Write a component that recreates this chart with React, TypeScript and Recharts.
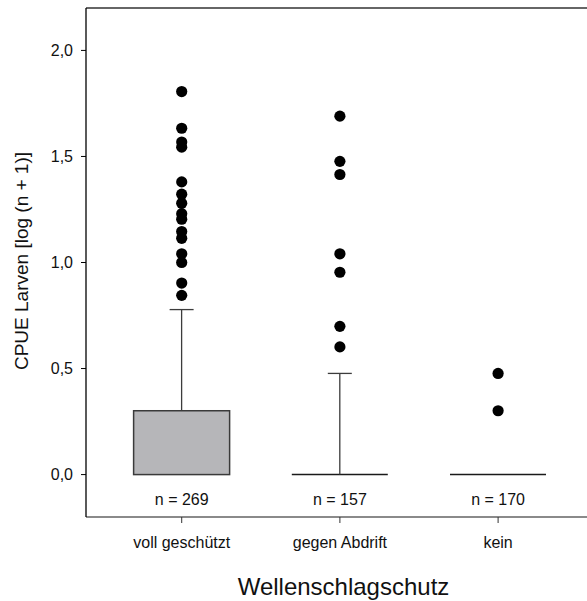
import { ComposedChart, Bar, Scatter, XAxis, YAxis, ReferenceLine } from 'recharts';

const categories = ['voll geschützt', 'gegen Abdrift', 'kein'];
const upperQuartile = [0.301, 0, 0];
const upperWhisker = [0.778, 0.477, 0];
const sampleSizes = [269, 157, 170];

const outliersVoll = [1.806, 1.633, 1.568, 1.544, 1.38, 1.322, 1.279, 1.23, 1.204, 1.146, 1.114, 1.041, 1.0, 0.903, 0.845];
const outliersAbdrift = [1.69, 1.477, 1.415, 1.041, 0.954, 0.699, 0.602];
const outliersKein = [0.477, 0.301];

const yTicks = [0, 0.5, 1, 1.5, 2];

const rows = categories.map((name, i) => ({
  pos: i + 1,
  name,
  box: upperQuartile[i],
  whisker: upperWhisker[i] - upperQuartile[i],
  n: sampleSizes[i],
}));

const outliers = [outliersVoll, outliersAbdrift, outliersKein].flatMap((list, i) =>
  list.map((value) => ({ pos: i + 1, value }))
);

const font = '"Liberation Sans", Arial, sans-serif';

const BoxShape = (props: any) => {
  const { x, y, width, height } = props;
  if (!height || height < 0.5) {
    return <line x1={x} x2={x + width} y1={y} y2={y} stroke="#1a1a1a" strokeWidth={1.5} />;
  }
  return <rect x={x} y={y} width={width} height={height} fill="#b6b6b9" stroke="#3a3a3a" strokeWidth={1.5} />;
};

const WhiskerShape = (props: any) => {
  const { x, y, width, height } = props;
  if (!height || height <= 0) return <g />;
  const cx = x + width / 2;
  return (
    <g stroke="#3c3c3c" strokeWidth={1.3}>
      <line x1={cx} x2={cx} y1={y + height} y2={y} />
      <line x1={cx - 12} x2={cx + 12} y1={y} y2={y} />
    </g>
  );
};

const Dot = (props: any) => <circle cx={props.cx} cy={props.cy} r={5.6} fill="#000" />;

const CategoryTick = (props: any) => {
  const { x, y, payload } = props;
  const i = payload.value - 1;
  return (
    <g fontFamily={font} fontSize={16} fill="#111">
      <text x={x} y={y - 20} textAnchor="middle" fill="#111">
        n = {sampleSizes[i]}
      </text>
      <text x={x} y={y + 23} textAnchor="middle" fill="#111">
        {categories[i]}
      </text>
    </g>
  );
};

export default function App() {
  return (
    <div style={{ position: 'absolute', left: 0, top: 0, width: 587, height: 601, background: '#fff', overflow: 'hidden' }}>
      <ComposedChart
        width={587}
        height={601}
        data={rows}
        margin={{ top: 8, right: 0, left: 0, bottom: 0 }}
      >
        <XAxis
          dataKey="pos"
          type="number"
          domain={[0.395, 3.562]}
          ticks={[1, 2, 3]}
          height={84}
          tickSize={6}
          tickLine={{ stroke: '#333' }}
          axisLine={{ stroke: '#8a8a8a', strokeWidth: 2 }}
          tick={<CategoryTick />}
          label={{
            value: 'Wellenschlagschutz',
            position: 'insideBottom',
            offset: 6,
            dx: 7,
            fontSize: 24,
            fontFamily: font,
            fill: '#111',
          }}
        />
        <YAxis
          type="number"
          domain={[-0.2, 2.2]}
          ticks={yTicks}
          width={86}
          tickSize={5}
          tickMargin={8}
          tickFormatter={(v: number) => v.toFixed(1).replace('.', ',')}
          tick={{ fontSize: 16, fontFamily: font, fill: '#111' }}
          tickLine={{ stroke: '#000' }}
          axisLine={{ stroke: '#000', strokeWidth: 1.3 }}
          label={{
            content: () => (
              <text
                x={21}
                y={261}
                transform="rotate(-90 21 261)"
                textAnchor="middle"
                dominantBaseline="central"
                fontSize={19}
                fontFamily={font}
                fill="#111"
              >
                CPUE Larven [log (n + 1)]
              </text>
            ),
          }}
        />
        <ReferenceLine y={2.2} stroke="#333" strokeWidth={1.5} />
        <Bar dataKey="box" stackId="b" barSize={96} shape={<BoxShape />} isAnimationActive={false} />
        <Bar dataKey="whisker" stackId="b" barSize={96} shape={<WhiskerShape />} isAnimationActive={false} />
        <Scatter data={outliers} dataKey="value" shape={<Dot />} isAnimationActive={false} />
      </ComposedChart>
    </div>
  );
}
